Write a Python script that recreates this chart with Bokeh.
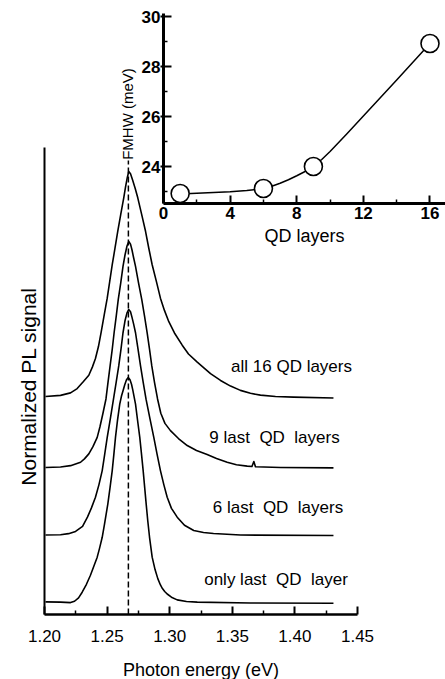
import numpy as np
from bokeh.plotting import figure
from bokeh.models import Range1d, LinearAxis, FixedTicker, NumeralTickFormatter
from bokeh.core.properties import value
from bokeh.embed import file_html
from bokeh.resources import INLINE

# ---------------- main panel: normalized PL spectra (peak = 1) ----------------
energy_all16 = [1.2008, 1.2128, 1.2208, 1.2261, 1.2311, 1.2354, 1.2383, 1.2407, 1.2431, 1.2453,
                1.2477, 1.2501, 1.2521, 1.2541, 1.2563, 1.2585, 1.2609, 1.2633, 1.2647, 1.2661,
                1.2673, 1.2687, 1.2703, 1.2724, 1.2745, 1.2776, 1.2807, 1.2833, 1.2860, 1.2895,
                1.2926, 1.2958, 1.2993, 1.3038, 1.3100, 1.3150, 1.3220, 1.3326, 1.3406, 1.3486,
                1.3565, 1.3645, 1.3725, 1.3845, 1.3989, 1.4308]
signal_all16 = [0.004, 0.009, 0.020, 0.039, 0.070, 0.098, 0.135, 0.172, 0.225, 0.290,
                0.365, 0.439, 0.513, 0.587, 0.660, 0.735, 0.810, 0.883, 0.930, 0.972,
                1.000, 0.990, 0.963, 0.925, 0.883, 0.810, 0.735, 0.660, 0.587, 0.510,
                0.439, 0.385, 0.335, 0.285, 0.231, 0.192, 0.156, 0.105, 0.075, 0.050,
                0.031, 0.018, 0.010, 0.004, 0.001, -0.003]

energy_9last = [1.2008, 1.2128, 1.2208, 1.2288, 1.2319, 1.2354, 1.2387, 1.2421, 1.2443, 1.2467,
                1.2491, 1.2507, 1.2524, 1.2541, 1.2556, 1.2573, 1.2589, 1.2609, 1.2627, 1.2643,
                1.2659, 1.2673, 1.2687, 1.2699, 1.2711, 1.2727, 1.2751, 1.2777, 1.2799, 1.2820,
                1.2839, 1.2857, 1.2879, 1.2903, 1.2929, 1.2962, 1.3006, 1.3070, 1.3140, 1.3214,
                1.3299, 1.3374, 1.3459, 1.3533, 1.3619, 1.3657, 1.3672, 1.3685, 1.3885, 1.4308]
signal_9last = [0.000, 0.002, 0.008, 0.023, 0.038, 0.060, 0.092, 0.133, 0.180, 0.240,
                0.303, 0.375, 0.449, 0.522, 0.596, 0.670, 0.743, 0.817, 0.890, 0.940,
                0.980, 1.000, 0.988, 0.962, 0.930, 0.890, 0.817, 0.743, 0.670, 0.596,
                0.522, 0.449, 0.375, 0.303, 0.240, 0.195, 0.163, 0.128, 0.097, 0.075,
                0.057, 0.040, 0.023, 0.012, 0.006, 0.004, 0.026, 0.003, 0.000, -0.002]

energy_6last = [1.2008, 1.2128, 1.2192, 1.2248, 1.2304, 1.2343, 1.2375, 1.2407, 1.2435, 1.2461,
                1.2481, 1.2501, 1.2527, 1.2551, 1.2573, 1.2593, 1.2611, 1.2627, 1.2643, 1.2659,
                1.2673, 1.2687, 1.2699, 1.2712, 1.2727, 1.2747, 1.2767, 1.2789, 1.2811, 1.2843,
                1.2873, 1.2899, 1.2926, 1.2953, 1.2980, 1.3014, 1.3060, 1.3118, 1.3192, 1.3270,
                1.3350, 1.3565, 1.4308]
signal_6last = [0.002, 0.003, 0.008, 0.018, 0.040, 0.081, 0.122, 0.169, 0.225, 0.287,
                0.360, 0.434, 0.520, 0.603, 0.680, 0.750, 0.825, 0.897, 0.950, 0.985,
                1.000, 0.990, 0.965, 0.935, 0.897, 0.825, 0.750, 0.675, 0.603, 0.515,
                0.434, 0.360, 0.287, 0.225, 0.169, 0.120, 0.081, 0.045, 0.022, 0.013,
                0.009, 0.002, 0.000]

energy_1last = [1.2008, 1.2128, 1.2208, 1.2240, 1.2272, 1.2301, 1.2335, 1.2367, 1.2391, 1.2421,
                1.2439, 1.2461, 1.2479, 1.2506, 1.2524, 1.2541, 1.2554, 1.2567, 1.2583, 1.2601,
                1.2615, 1.2629, 1.2641, 1.2655, 1.2669, 1.2683, 1.2695, 1.2705, 1.2727, 1.2743,
                1.2761, 1.2775, 1.2788, 1.2812, 1.2825, 1.2839, 1.2860, 1.2883, 1.2905, 1.2926,
                1.2942, 1.2960, 1.2980, 1.3014, 1.3060, 1.3134, 1.3220, 1.3645, 1.4308]
signal_1last = [0.007, 0.006, 0.004, 0.010, 0.025, 0.050, 0.085, 0.125, 0.160, 0.205,
                0.243, 0.293, 0.350, 0.441, 0.515, 0.588, 0.660, 0.735, 0.810, 0.882,
                0.918, 0.945, 0.968, 0.990, 1.000, 0.990, 0.970, 0.945, 0.882, 0.812,
                0.735, 0.660, 0.588, 0.441, 0.365, 0.293, 0.205, 0.150, 0.110, 0.082,
                0.066, 0.053, 0.042, 0.028, 0.016, 0.009, 0.006, 0.002, 0.001]

curve_offsets = [0.912, 0.602, 0.301, 0.000]
curve_labels = ["all 16 QD layers", "9 last\u00a0 QD\u00a0 layers",
                "6 last\u00a0 QD\u00a0 layers", "only last\u00a0 QD\u00a0 layer"]
label_energy = [1.3973, 1.3837, 1.3865, 1.3849]
label_level = [1.049, 0.735, 0.425, 0.106]
peak_energy = 1.267

x_ticks = [1.20, 1.25, 1.30, 1.35, 1.40, 1.45]
x_minor_ticks = [1.225, 1.275, 1.325, 1.375, 1.425]

# ---------------- inset: FWHM vs number of QD layers ----------------
qd_layers = [1, 6, 9, 16]
fwhm_mev = [22.92, 23.12, 24.00, 28.92]
fit_layers = [1, 2, 3, 4, 5, 6, 6.5, 7, 7.5, 8, 8.5, 9, 9.5, 10, 11, 12, 13, 14, 15, 16]
fit_fwhm = [22.90, 22.93, 22.96, 22.99, 23.04, 23.12, 23.21, 23.33, 23.47, 23.63, 23.80, 24.00,
            24.28, 24.60, 25.30, 26.02, 26.74, 27.46, 28.19, 28.92]
inset_x_ticks = [0, 4, 8, 12, 16]
inset_x_minor = [2, 6, 10, 14]
inset_y_ticks = [24, 26, 28, 30]
inset_y_minor = [23, 25, 27, 29]

# ---------------- layout (pixels inside the figure) ----------------
W, H = 445, 679
FONT = "Liberation Sans"

main_x0_px, px_per_ev = 44, 1252.0       # x pixel of 1.20 eV
main_y0_px, px_per_unit = 603, 226.0     # y pixel of lowest baseline
main_x_range = Range1d(1.20 - main_x0_px / px_per_ev, 1.20 + (W - main_x0_px) / px_per_ev)
main_y_range = Range1d(-(H - main_y0_px) / px_per_unit, main_y0_px / px_per_unit)
axis_y = -11 / px_per_unit
y_axis_top = (main_y0_px - 147) / px_per_unit
dash_top = (main_y0_px - 160) / px_per_unit
ylabel_x = 1.20 - 16 / px_per_ev
ylabel_y = (main_y0_px - 386) / px_per_unit

in_x0_px, in_px_per_layer = 163, 16.656
in_y24_px, in_px_per_mev = 166, 25.0
inset_x_range = Range1d(-in_x0_px / in_px_per_layer, (W - in_x0_px) / in_px_per_layer)
inset_y_range = Range1d(24 - (H - in_y24_px) / in_px_per_mev, 24 + in_y24_px / in_px_per_mev)
inset_axis_y = 24 - (203 - in_y24_px) / in_px_per_mev
inset_axis_top = 24 + (in_y24_px - 13) / in_px_per_mev
inset_ylabel_x = -36 / in_px_per_layer
inset_ylabel_y = 24 + (in_y24_px - 113.5) / in_px_per_mev

p = figure(width=W, height=H, x_range=main_x_range, y_range=main_y_range,
           x_axis_location=None, y_axis_location=None,
           toolbar_location=None, output_backend="svg", min_border=0)
p.extra_x_ranges = {"inset_x": inset_x_range}
p.extra_y_ranges = {"inset_y": inset_y_range}
p.outline_line_color = None
p.grid.visible = False
p.background_fill_color = "white"
p.border_fill_color = "white"

# ---- main x axis ----
xaxis = LinearAxis(ticker=FixedTicker(ticks=x_ticks, minor_ticks=x_minor_ticks),
                   formatter=NumeralTickFormatter(format="0.00"),
                   fixed_location=axis_y, bounds=(1.20, 1.45),
                   axis_label="Photon energy (eV)")
xaxis.axis_line_width = 2.5
xaxis.major_tick_in, xaxis.major_tick_out = 8, 0
xaxis.minor_tick_in, xaxis.minor_tick_out = 4, 0
xaxis.major_tick_line_width = 2
xaxis.minor_tick_line_width = 1.5
xaxis.major_label_standoff = 15
xaxis.major_label_text_font = FONT
xaxis.major_label_text_font_size = "17px"
xaxis.major_label_text_color = "black"
xaxis.axis_label_text_font = FONT
xaxis.axis_label_text_font_size = "18px"
xaxis.axis_label_text_font_style = "normal"
xaxis.axis_label_text_color = "black"
xaxis.axis_label_standoff = 15
p.add_layout(xaxis, "below")

# ---- main y axis (line only) ----
yaxis = LinearAxis(ticker=FixedTicker(ticks=[]), fixed_location=1.20,
                   bounds=(axis_y, y_axis_top))
yaxis.axis_line_width = 2
yaxis.major_tick_in = yaxis.major_tick_out = 0
yaxis.minor_tick_in = yaxis.minor_tick_out = 0
p.add_layout(yaxis, "left")

p.text(x=[ylabel_x], y=[ylabel_y], text=["Normalized PL signal"], angle=np.pi / 2,
       text_align="center", text_baseline="middle", text_font=value(FONT),
       text_font_size="21px", text_color="black")

# ---- spectra ----
spectra = [(energy_all16, signal_all16), (energy_9last, signal_9last),
           (energy_6last, signal_6last), (energy_1last, signal_1last)]
for (e, s), off in zip(spectra, curve_offsets):
    p.line(e, np.asarray(s) + off, line_color="black", line_width=1.6, line_join="round")

p.line([peak_energy, peak_energy], [axis_y, dash_top], line_color="black",
       line_width=1.5, line_dash="6 3")

p.text(x=label_energy, y=label_level, text=curve_labels, text_align="center",
       text_baseline="middle", text_font=value(FONT), text_font_size="17px",
       text_color="black")

# ---- inset axes ----
ix = LinearAxis(x_range_name="inset_x", y_range_name="inset_y",
                ticker=FixedTicker(ticks=inset_x_ticks, minor_ticks=inset_x_minor),
                fixed_location=inset_axis_y, bounds=(0, 17), axis_label="QD layers")
ix.axis_line_width = 3
ix.major_tick_in, ix.major_tick_out = 8, 0
ix.minor_tick_in, ix.minor_tick_out = 4, 0
ix.major_tick_line_width = 2
ix.minor_tick_line_width = 1.5
ix.major_label_standoff = 3
ix.major_label_text_font = FONT
ix.major_label_text_font_size = "17px"
ix.major_label_text_font_style = "bold"
ix.major_label_text_color = "black"
ix.axis_label_text_font = FONT
ix.axis_label_text_font_size = "18px"
ix.axis_label_text_font_style = "normal"
ix.axis_label_text_color = "black"
ix.axis_label_standoff = 4
p.add_layout(ix, "below")

iy = LinearAxis(x_range_name="inset_x", y_range_name="inset_y",
                ticker=FixedTicker(ticks=inset_y_ticks, minor_ticks=inset_y_minor),
                fixed_location=0, bounds=(inset_axis_y, inset_axis_top))
iy.axis_line_width = 3
iy.major_tick_in, iy.major_tick_out = 8, 3
iy.minor_tick_in, iy.minor_tick_out = 4, 0
iy.major_tick_line_width = 2
iy.minor_tick_line_width = 1.5
iy.major_label_standoff = 0
iy.major_label_text_font = FONT
iy.major_label_text_font_size = "17px"
iy.major_label_text_font_style = "bold"
iy.major_label_text_color = "black"
p.add_layout(iy, "left")

p.text(x=[inset_ylabel_x], y=[inset_ylabel_y], text=["FMHW (meV)"], angle=np.pi / 2,
       text_align="center", text_baseline="middle", text_font=value(FONT),
       text_font_size="15px", text_color="black",
       x_range_name="inset_x", y_range_name="inset_y")

# ---- inset data ----
p.line(fit_layers, fit_fwhm, x_range_name="inset_x", y_range_name="inset_y",
       line_color="black", line_width=1.5, line_join="round")
p.scatter(qd_layers, fwhm_mev, x_range_name="inset_x", y_range_name="inset_y",
          marker="circle", size=18, fill_color="white", line_color="black", line_width=1.6)

open("out.html", "w").write(file_html(p, INLINE, "PL spectra"))
